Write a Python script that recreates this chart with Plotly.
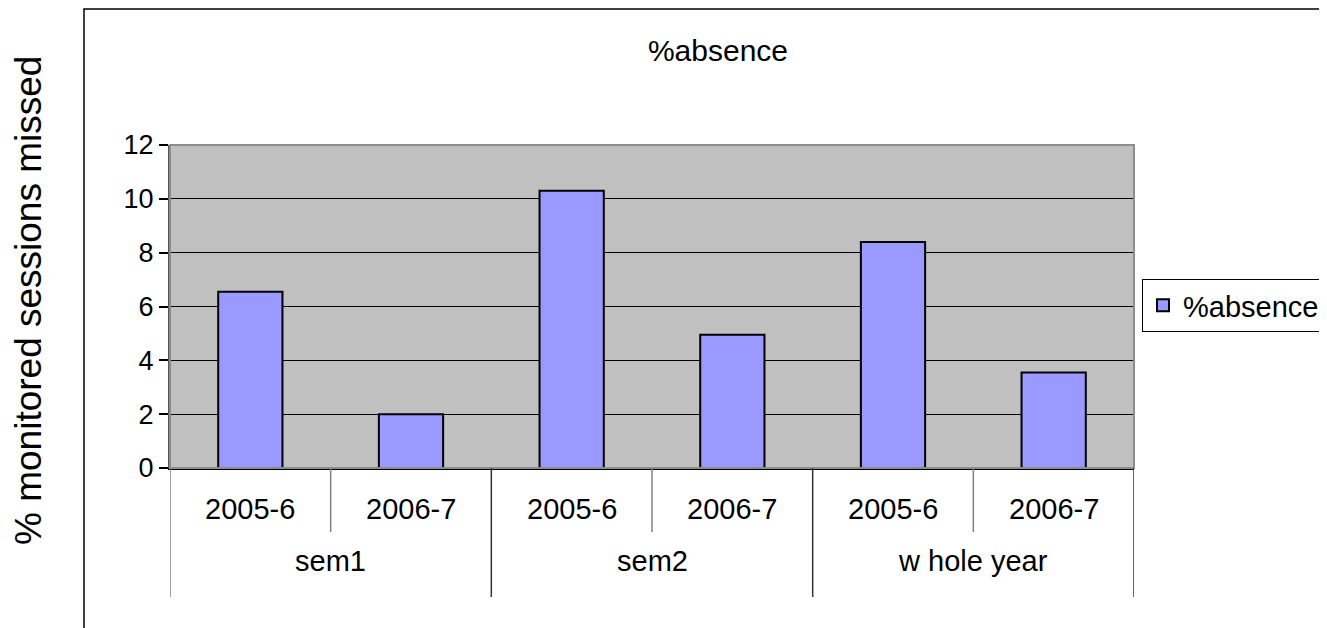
import plotly.graph_objects as go

# ---- data ----
periods = ["sem1", "sem1", "sem2", "sem2", "w hole year", "w hole year"]
years = ["2005-6", "2006-7", "2005-6", "2006-7", "2005-6", "2006-7"]
absence = [6.55, 2.0, 10.3, 4.95, 8.4, 3.55]
series_name = "%absence"
y_ticks = [0, 2, 4, 6, 8, 10, 12]

FONT = "Arial, Liberation Sans, sans-serif"
OFF = 8  # default page body margin
W, H = 1327 - OFF, 628 - OFF

# plot area in screen pixels
PX0, PX1, PY0, PY1 = 170, 1134, 145, 468
ML, MT = PX0 - OFF, PY0 - OFF
MR, MB = W - (PX1 - OFF), H - (PY1 - OFF)
PW, PH = PX1 - PX0, PY1 - PY0

def sx(px):
    """screen x pixel -> paper x"""
    return (px - PX0) / PW

def sy(py):
    """screen y pixel -> paper y"""
    return (PY1 - py) / PH

idx = list(range(len(absence)))

fig = go.Figure()
fig.add_trace(go.Bar(
    x=idx, y=absence, name=series_name, width=0.4,
    marker=dict(color="#9999ff", line=dict(color="black", width=2)),
    showlegend=True, hoverinfo="skip",
))

shapes = []
annotations = []

# plot-area border (gray)
shapes.append(dict(type="rect", xref="paper", yref="paper", x0=0, y0=0, x1=1, y1=1,
                   line=dict(color="#8c8c8c", width=2), layer="above"))
# outer chart frame
shapes.append(dict(type="rect", xref="paper", yref="paper",
                   x0=sx(84), y0=sy(700), x1=sx(1400), y1=sy(9),
                   line=dict(color="black", width=1.5), layer="above"))

inner_bottom = sy(532)
group_bottom = sy(597)

# category dividers
n = len(idx)
for b in range(n + 1):
    xb = b - 0.5
    is_group = b == 0 or b == n or periods[b - 1] != periods[b]
    edge = b == 0
    shapes.append(dict(type="line", xref="x", yref="paper", x0=xb, x1=xb,
                       y0=0, y1=group_bottom if is_group else inner_bottom,
                       line=dict(color="#808080" if (edge or not is_group) else "#333333", width=1.5)))

# inner labels
for i, yr in zip(idx, years):
    annotations.append(dict(x=i, y=sy(509), xref="x", yref="paper",
                            text=yr, showarrow=False, xanchor="center", yanchor="middle",
                            font=dict(family=FONT, size=29, color="black")))

# group labels
groups = []
for i, p in zip(idx, periods):
    if not groups or groups[-1][0] != p:
        groups.append([p, []])
    groups[-1][1].append(i)
for p, members in groups:
    annotations.append(dict(x=sum(members) / len(members), y=sy(561), xref="x", yref="paper",
                            text=p, showarrow=False, xanchor="center", yanchor="middle",
                            font=dict(family=FONT, size=29, color="black")))

# y-axis title
annotations.append(dict(x=sx(28), y=sy(301), xref="paper", yref="paper",
                        text="% monitored sessions missed", textangle=-90, showarrow=False,
                        xanchor="center", yanchor="middle",
                        font=dict(family=FONT, size=37, color="black")))

fig.update_layout(
    width=W, height=H,
    margin=dict(l=ML, r=MR, t=MT, b=MB, pad=0, autoexpand=False),
    paper_bgcolor="white", plot_bgcolor="#c0c0c0",
    font=dict(family=FONT, color="black"),
    title=dict(text="%absence", x=(718 - OFF) / W, xref="container", xanchor="center",
               y=(H - (50 - OFF)) / H, yanchor="middle",
               font=dict(family=FONT, size=30, color="black")),
    xaxis=dict(range=[-0.5, n - 0.5], showticklabels=False, showgrid=False, zeroline=False,
               showline=True, linecolor="black", linewidth=1.5, ticks="", fixedrange=True),
    yaxis=dict(range=[0, 12], tickvals=y_ticks, showgrid=True, gridcolor="black", gridwidth=1,
               zeroline=False, showline=True, linecolor="#555555", linewidth=2,
               ticks="outside", ticklen=9, tickcolor="black", tickwidth=1.5,
               tickfont=dict(family=FONT, size=27, color="black"), fixedrange=True),
    legend=dict(x=sx(1142), y=sy(279), xanchor="left", yanchor="top",
                bordercolor="black", borderwidth=1, bgcolor="white",
                font=dict(family=FONT, size=29, color="black")),
    shapes=shapes, annotations=annotations,
    bargap=0.6,
)

fig.write_html("out.html")
